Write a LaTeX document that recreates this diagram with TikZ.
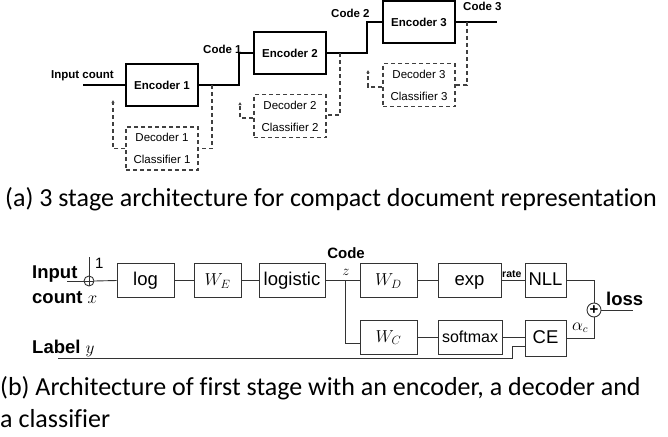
\documentclass[tikz,border=0pt]{standalone}
\usepackage{fontspec}
\setmainfont{Liberation Sans}
\newfontfamily\capfont[Ligatures={NoCommon}]{Carlito}
\usetikzlibrary{arrows.meta,calc}
\newcommand{\fs}[1]{\fontsize{#1}{1.2\dimexpr#1pt\relax}\selectfont}
\begin{document}
\begin{tikzpicture}[x=1pt,y=-1pt,
  % stage diagram
  enc/.style={draw, line width=1.8pt, minimum width=72pt, minimum height=42pt,
    inner sep=0pt, font=\fs{11.5}\bfseries},
  dec/.style={draw=black!75, line width=1.1pt, dash pattern=on 4pt off 3pt,
    minimum width=72pt, minimum height=43pt, inner sep=0pt, align=center,
    font=\fontsize{11.5}{22}\selectfont},
  mainline/.style={line width=1.8pt},
  tap/.style={draw=black!75, line width=1.1pt, dash pattern=on 4pt off 3pt},
  tapin/.style={tap, -{Latex[length=3pt,width=3.5pt]}},
  lbl/.style={inner sep=0pt, font=\fs{11.5}\bfseries},
  % first-stage network
  blk/.style={draw=black!80, line width=0.9pt, minimum height=34pt, inner sep=0pt,
    text height=13.5pt, text depth=3.5pt, font=\fs{18.5}},
  wire/.style={draw=black!80, line width=0.9pt},
  bigtxt/.style={inner sep=0pt, font=\fs{18.5}\bfseries},
  captxt/.style={inner sep=0pt, font=\capfont\fs{26}}
]
\useasboundingbox (0,0) rectangle (668,436);

% ---------------- three stages ----------------
\node[enc] (e1) at (162,85) {Encoder 1};
\node[enc] (e2) at (290,53) {Encoder 2};
\node[enc] (e3) at (419,22) {Encoder 3};

\node[dec] (d1) at (162,148.5) {Decoder 1\\Classifier 1};
\node[dec] (d2) at (290,116) {Decoder 2\\Classifier 2};
\node[dec] (d3) at (419,85) {Decoder 3\\Classifier 3};

\coordinate (in1) at (83,85);
\coordinate (j1) at (239,0);
\coordinate (j2) at (367,0);
\coordinate (out3) at (497,22);

\draw[mainline] (in1) -- (e1.west);
\draw[mainline] (e1.east) -| (j1 |- e2.west) -- (e2.west);
\draw[mainline] (e2.east) -| (j2 |- e3.west) -- (e3.west);
\draw[mainline] (e3.east) -- (out3);

\node[lbl, anchor=base east] at (114,78) {Input count};
\node[lbl, anchor=base west] at (203,53) {Code 1};
\node[lbl, anchor=base west] at (331,18) {Code 2};
\node[lbl, anchor=base west] at (463,11) {Code 3};

% codes feed the decoder/classifier heads
\coordinate (t1) at (212,85);
\coordinate (t2) at (340,53);
\coordinate (t3) at (467,22);
\draw[tap] (t1) |- (d1.east);
\draw[tap] (t2) |- ([yshift=1pt]d2.east);
\draw[tap] (t3) |- (d3.east);

% reconstruction goes back to the stage input
\coordinate (a1) at (113,100);
\coordinate (a2) at (240,102);
\coordinate (a3) at (368,70);
\draw[tapin] (d1.west) -| (a1);
\draw[tapin] ([yshift=-2pt]d2.west) -| (a2);
\draw[tapin] ([yshift=-2pt]d3.west) -| (a3);

\node[captxt, anchor=base west] at (5,206) {(a) 3 stage architecture for compact document representation};

% ---------------- first stage ----------------
\node[circle, draw=black!80, line width=0.9pt, minimum size=10pt, inner sep=0pt,
  path picture={\draw[black!80, line width=0.9pt]
    (path picture bounding box.north) -- (path picture bounding box.south)
    (path picture bounding box.west) -- (path picture bounding box.east);}]
  (p1) at (89,281) {};
\node[blk, minimum width=57pt] (log) at (145.5,280.5) {log};
\node[blk, minimum width=47pt] (we) at (217.5,280.5) {$W_E$};
\node[blk, minimum width=66pt] (lgt) at (292,280.5) {logistic};
\node[blk, minimum width=57pt] (wd) at (388.5,280.5) {$W_D$};
\node[blk, minimum width=63pt] (exp) at (469.5,280.5) {exp};
\node[blk, minimum width=41pt] (nll) at (545.5,280.5) {NLL};
\node[blk, minimum width=57pt] (wc) at (388.5,337) {$W_C$};
\node[blk, minimum width=64pt, font=\fs{16}] (sm) at (470,337) {softmax};
\node[blk, minimum width=41pt, minimum height=36pt] (ce) at (545.5,338) {CE};
\node[circle, draw=black!80, line width=0.9pt, minimum size=14pt, inner sep=0pt,
  font=\fs{15}\bfseries] (p2) at (594,310) {+};

\coordinate (x0) at (67,281);
\coordinate (one) at (89,257);
\coordinate (zb) at (345,280.5);
\coordinate (y0) at (58,358);
\coordinate (yk) at (512,358);
\coordinate (lossend) at (633,310);

\draw[wire] (x0) -- (p1.west);
\draw[wire] (p1.north) -- (one);
\draw[wire] (p1.east) -- (log.west);
\draw[wire] (log) -- (we);
\draw[wire] (we) -- (lgt);
\draw[wire] (lgt) -- (wd);
\draw[wire] (zb) |- ([yshift=-6pt]wc.west);
\draw[wire] (wd) -- (exp);
\draw[wire] (exp) -- (nll);
\draw[wire] (wc) -- (sm);
\draw[wire] (sm.east) -- (sm.east -| ce.west);
\draw[wire] (y0) -- (yk) |- ([yshift=-8pt]ce.west);
\draw[wire] (nll.east) -| (p2.north);
\draw[wire] (ce.east) -| (p2.south);
\draw[wire] (p2.east) -- (lossend);

\node[bigtxt, anchor=base west] at (32,278.5) {Input};
\node[bigtxt, anchor=base west] at (32,303) {count $x$};
\node[bigtxt, anchor=base west] at (32,353) {Label $y$};
\node[inner sep=0pt, anchor=base west, font=\fs{15}] at (95,268) {1};
\node[inner sep=0pt, anchor=base, font=\fs{15}\bfseries] at (346,258) {Code};
\node[inner sep=0pt, anchor=base, font=\fs{15}] at (346,275) {$z$};
\node[inner sep=0pt, anchor=base west, font=\fs{10.5}\bfseries] at (502,277) {rate};
\node[bigtxt, anchor=base west] at (606,305) {loss};
\node[inner sep=0pt, anchor=base west, font=\fs{16}] at (572,330) {$\alpha_c$};

\node[captxt, anchor=base west] at (0,395) {(b) Architecture of first stage with an encoder, a decoder and};
\node[captxt, anchor=base west] at (0,427) {a classifier};
\end{tikzpicture}
\end{document}
